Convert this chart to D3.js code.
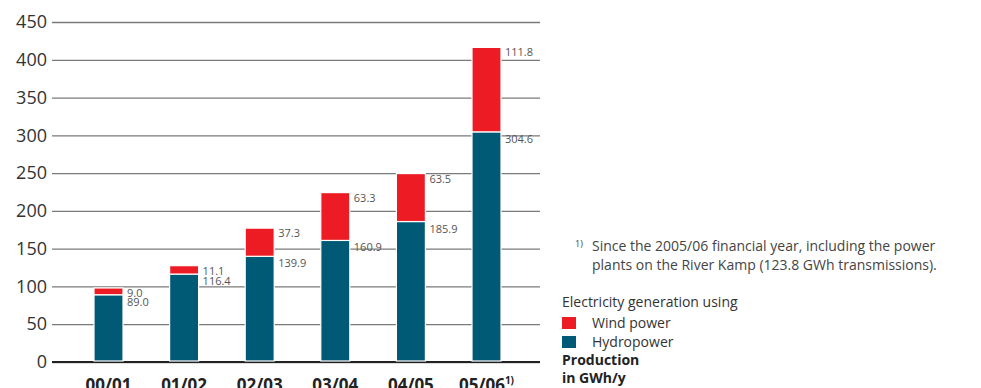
<!DOCTYPE html>
<html>
<head>
<meta charset="utf-8">
<script src="https://cdn.jsdelivr.net/npm/d3@7"></script>
<style>
  body { margin: 0; background: #fff; }
  text { font-family: "Open Sans", "Noto Sans", sans-serif; }
</style>
</head>
<body>
<script>
// chart values
var years = ["00/01", "01/02", "02/03", "03/04", "04/05", "05/06"];
var hydro = [89.0, 116.4, 139.9, 160.9, 185.9, 304.6];
var wind = [9.0, 11.1, 37.3, 63.3, 63.5, 111.8];
var yTicks = [0, 50, 100, 150, 200, 250, 300, 350, 400, 450];

var w = 981;
var h = 388;
var red = "#ed1c24";
var blue = "#005a76";
var barWidth = 29;

var svg = d3.select("body")
    .append("svg")
    .attr("width", w)
    .attr("height", h);

var xScale = d3.scaleBand()
    .domain(years)
    .range([70.7, 524.3]);

var yScale = d3.scaleLinear()
    .domain([0, 450])
    .range([362, 22]);

// grid lines with tick labels
var yAxis = d3.axisLeft(yScale)
    .tickValues(yTicks)
    .tickSize(-488)
    .tickPadding(6);

var gy = svg.append("g")
    .attr("transform", "translate(52,0)")
    .call(yAxis);

gy.select(".domain").remove();
gy.selectAll(".tick line")
    .attr("stroke", "#7a7a7a")
    .attr("stroke-width", 1.3);
gy.selectAll(".tick text")
    .attr("x", -5)
    .style("font-size", "18px")
    .style("fill", "#333");

// zero line
svg.append("line")
    .attr("x1", 52)
    .attr("x2", 540)
    .attr("y1", yScale(0))
    .attr("y2", yScale(0))
    .attr("stroke", "#222")
    .attr("stroke-width", 2.2);

var rows = years.map(function(y, i){
    return {year: y, hydro: hydro[i], wind: wind[i]};
});

var barX = function(d){
    return xScale(d.year) + xScale.bandwidth() / 2 - barWidth / 2;
};

// hydropower segments
svg.selectAll("rect.hydro")
    .data(rows)
    .enter()
    .append("rect")
    .attr("class", "hydro")
    .attr("x", barX)
    .attr("y", function(d){ return yScale(d.hydro); })
    .attr("width", barWidth)
    .attr("height", function(d){ return yScale(0) - yScale(d.hydro) - 1; })
    .attr("fill", blue)
    .attr("stroke", "#fff")
    .attr("stroke-width", 1.2);

// wind power segments on top
svg.selectAll("rect.wind")
    .data(rows)
    .enter()
    .append("rect")
    .attr("class", "wind")
    .attr("x", barX)
    .attr("y", function(d){ return yScale(d.hydro + d.wind); })
    .attr("width", barWidth)
    .attr("height", function(d){ return yScale(d.hydro) - yScale(d.hydro + d.wind); })
    .attr("fill", red)
    .attr("stroke", "#fff")
    .attr("stroke-width", 1.2);

// value labels
svg.selectAll("text.windval")
    .data(rows)
    .enter()
    .append("text")
    .attr("x", function(d){ return barX(d) + barWidth + 4; })
    .attr("y", function(d){ return yScale(d.hydro + d.wind) + 9; })
    .style("font-size", "11px")
    .style("fill", "#555")
    .text(function(d){ return d.wind.toFixed(1); });

svg.selectAll("text.hydroval")
    .data(rows)
    .enter()
    .append("text")
    .attr("x", function(d){ return barX(d) + barWidth + 4; })
    .attr("y", function(d){ return yScale(d.hydro) + 11; })
    .style("font-size", "11px")
    .style("fill", "#555")
    .text(function(d){ return d.hydro.toFixed(1); });

// category labels
var cat = svg.selectAll("text.cat")
    .data(years)
    .enter()
    .append("text")
    .attr("x", function(d){ return xScale(d) + xScale.bandwidth() / 2; })
    .attr("y", 391)
    .attr("text-anchor", "middle")
    .style("font-size", "17px")
    .style("font-weight", "bold")
    .style("fill", "#222")
    .text(function(d){ return d; });

cat.filter(function(d){ return d == "05/06"; })
    .append("tspan")
    .attr("dy", -7)
    .style("font-size", "10px")
    .text("1)");

// footnote
svg.append("text")
    .attr("x", 575)
    .attr("y", 247)
    .style("font-size", "9px")
    .style("fill", "#444")
    .text("1)");

svg.append("text")
    .attr("x", 592)
    .attr("y", 251)
    .style("font-size", "14px")
    .style("fill", "#444")
    .text("Since the 2005/06 financial year, including the power");

svg.append("text")
    .attr("x", 592)
    .attr("y", 270)
    .style("font-size", "14px")
    .style("fill", "#444")
    .text("plants on the River Kamp (123.8 GWh transmissions).");

// legend
svg.append("text")
    .attr("x", 562)
    .attr("y", 307)
    .style("font-size", "14px")
    .style("fill", "#333")
    .text("Electricity generation using");

var legend = [{name: "Wind power", color: red}, {name: "Hydropower", color: blue}];

svg.selectAll("rect.leg")
    .data(legend)
    .enter()
    .append("rect")
    .attr("x", 562)
    .attr("y", function(d, i){ return 317 + i * 19; })
    .attr("width", 14)
    .attr("height", 12)
    .attr("fill", function(d){ return d.color; });

svg.selectAll("text.leg")
    .data(legend)
    .enter()
    .append("text")
    .attr("x", 592)
    .attr("y", function(d, i){ return 328 + i * 18.5; })
    .style("font-size", "14px")
    .style("fill", "#333")
    .text(function(d){ return d.name; });

svg.append("text")
    .attr("x", 562)
    .attr("y", 365)
    .style("font-size", "14px")
    .style("font-weight", "bold")
    .style("fill", "#222")
    .text("Production");

svg.append("text")
    .attr("x", 562)
    .attr("y", 383)
    .style("font-size", "14px")
    .style("font-weight", "bold")
    .style("fill", "#222")
    .text("in GWh/y");
</script>
</body>
</html>
